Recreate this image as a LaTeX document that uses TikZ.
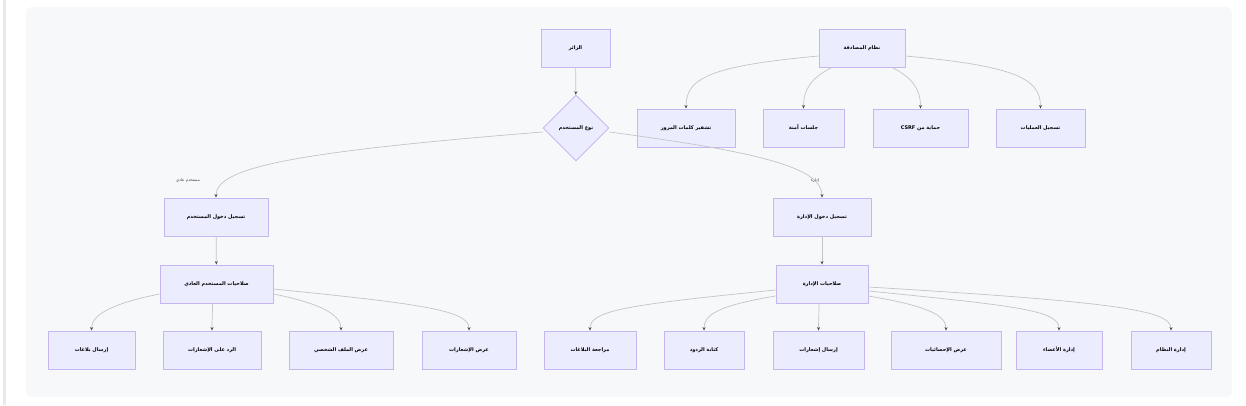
\documentclass[tikz,border=0pt]{standalone}
\usepackage{fontspec}
\setmainfont{DejaVu Sans}
\newfontfamily\arabicfont[Script=Arabic]{DejaVu Sans}
\TeXXeTstate=1
\usetikzlibrary{shapes.geometric,arrows.meta}
\definecolor{bgcol}{HTML}{F7F8FA}
\definecolor{barcol}{HTML}{E8E9EE}
\definecolor{boxfill}{HTML}{ECECFF}
\definecolor{boxline}{HTML}{C6B6F0}
\definecolor{linecol}{HTML}{C4C4C8}
\newcommand{\artext}[1]{\beginR #1\endR}
\tikzset{
  box/.style={draw=boxline, fill=boxfill, line width=0.9pt, minimum height=38pt,
    inner sep=0pt, font=\arabicfont\bfseries\fontsize{5}{6}\selectfont},
  decision/.style={diamond, draw=boxline, fill=boxfill, line width=0.9pt,
    minimum width=66pt, minimum height=66pt, inner sep=0pt,
    font=\arabicfont\bfseries\fontsize{5}{6}\selectfont},
  edge/.style={draw=linecol, line width=0.7pt,
    -{Stealth[length=3.5pt,width=3pt,color=black!70]}},
  elabel/.style={font=\arabicfont\fontsize{4}{5}\selectfont, text=black!75}
}
\begin{document}
\begin{tikzpicture}[x=1pt,y=-1pt]
  \useasboundingbox (0,0) rectangle (1246,405);
  \fill[barcol] (3,0) rectangle (6,405);
  \fill[bgcol, rounded corners=6pt] (26,7) rectangle (1232,397);

  \node[box, minimum width=69pt] (visitor) at (575.5,48) {\artext{الزائر}};
  \node[box, minimum width=86pt] (auth) at (862,48) {\artext{نظام المصادقة}};
  \node[box, minimum width=98pt] (hashpw) at (686,128) {\artext{تشفير كلمات المرور}};
  \node[box, minimum width=81pt] (sessions) at (803.5,128) {\artext{جلسات آمنة}};
  \node[box, minimum width=95pt] (csrf) at (920.5,128) {\artext{حماية من \beginL CSRF\endL}};
  \node[box, minimum width=89pt] (oplog) at (1040.5,128) {\artext{تسجيل العمليات}};
  \node[decision] (utype) at (576,128) {\artext{نوع المستخدم}};

  \node[box, minimum width=104pt] (ulogin) at (216,217) {\artext{تسجيل دخول المستخدم}};
  \node[box, minimum width=98pt] (alogin) at (822,217) {\artext{تسجيل دخول الإدارة}};
  \node[box, minimum width=113pt] (uperm) at (216.5,284) {\artext{صلاحيات المستخدم العادي}};
  \node[box, minimum width=92pt] (aperm) at (822,284) {\artext{صلاحيات الإدارة}};

  \node[box, minimum width=87pt] (sendrep) at (91.5,350) {\artext{إرسال بلاغات}};
  \node[box, minimum width=98pt] (replynot) at (212,350) {\artext{الرد على الإشعارات}};
  \node[box, minimum width=104pt] (profile) at (341,350) {\artext{عرض الملف الشخصي}};
  \node[box, minimum width=94pt] (shownot) at (469,350) {\artext{عرض الإشعارات}};
  \node[box, minimum width=92pt] (review) at (590,350) {\artext{مراجعة البلاغات}};
  \node[box, minimum width=80pt] (writerep) at (704,350) {\artext{كتابة الردود}};
  \node[box, minimum width=91pt] (sendnot) at (818.5,350) {\artext{إرسال إشعارات}};
  \node[box, minimum width=110pt] (stats) at (946,350) {\artext{عرض الإحصائيات}};
  \node[box, minimum width=86pt] (members) at (1059,350) {\artext{إدارة الأعضاء}};
  \node[box, minimum width=80pt] (sysadm) at (1171,350) {\artext{إدارة النظام}};

  \draw[edge] (visitor) -- (utype);
  \draw[edge] ([yshift=-8pt]auth.west) .. controls +(-110,10) and +(0,-30) .. (hashpw.north);
  \draw[edge] ([xshift=-30pt]auth.south) .. controls +(-20,10) and +(0,-20) .. (sessions.north);
  \draw[edge] ([xshift=30pt]auth.south) .. controls +(20,10) and +(0,-20) .. (csrf.north);
  \draw[edge] ([yshift=-8pt]auth.east) .. controls +(110,10) and +(0,-30) .. (oplog.north);

  \draw[edge] ([yshift=-4pt]utype.west) .. controls +(-250,20) and +(0,-30) .. (ulogin.north);
  \draw[edge] ([yshift=-4pt]utype.east) .. controls +(150,20) and +(0,-30) .. (alogin.north);
  \node[elabel] (lbluser) at (188,180) {\artext{مستخدم عادي}};
  \node[elabel] (lbladmin) at (815,180) {\artext{إدارة}};

  \draw[edge] (ulogin) -- (uperm);
  \draw[edge] (alogin) -- (aperm);

  \draw[edge] ([yshift=-10pt]uperm.west) .. controls +(-50,10) and +(0,-15) .. (sendrep.north);
  \draw[edge] ([xshift=-4pt]uperm.south) .. controls +(0,10) and +(0,-10) .. (replynot.north);
  \draw[edge] ([yshift=-10pt]uperm.east) .. controls +(50,10) and +(0,-15) .. (profile.north);
  \draw[edge] ([yshift=-5pt]uperm.east) .. controls +(150,15) and +(0,-20) .. (shownot.north);

  \draw[edge] ([yshift=-6pt]aperm.west) .. controls +(-150,15) and +(0,-20) .. (review.north);
  \draw[edge] ([yshift=-12pt]aperm.west) .. controls +(-60,10) and +(0,-15) .. (writerep.north);
  \draw[edge] ([xshift=-3pt]aperm.south) .. controls +(0,10) and +(0,-10) .. (sendnot.north);
  \draw[edge] ([yshift=-12pt]aperm.east) .. controls +(60,10) and +(0,-15) .. (stats.north);
  \draw[edge] ([yshift=-7pt]aperm.east) .. controls +(150,15) and +(0,-20) .. (members.north);
  \draw[edge] ([yshift=-3pt]aperm.east) .. controls +(250,15) and +(0,-20) .. (sysadm.north);
\end{tikzpicture}
\end{document}
